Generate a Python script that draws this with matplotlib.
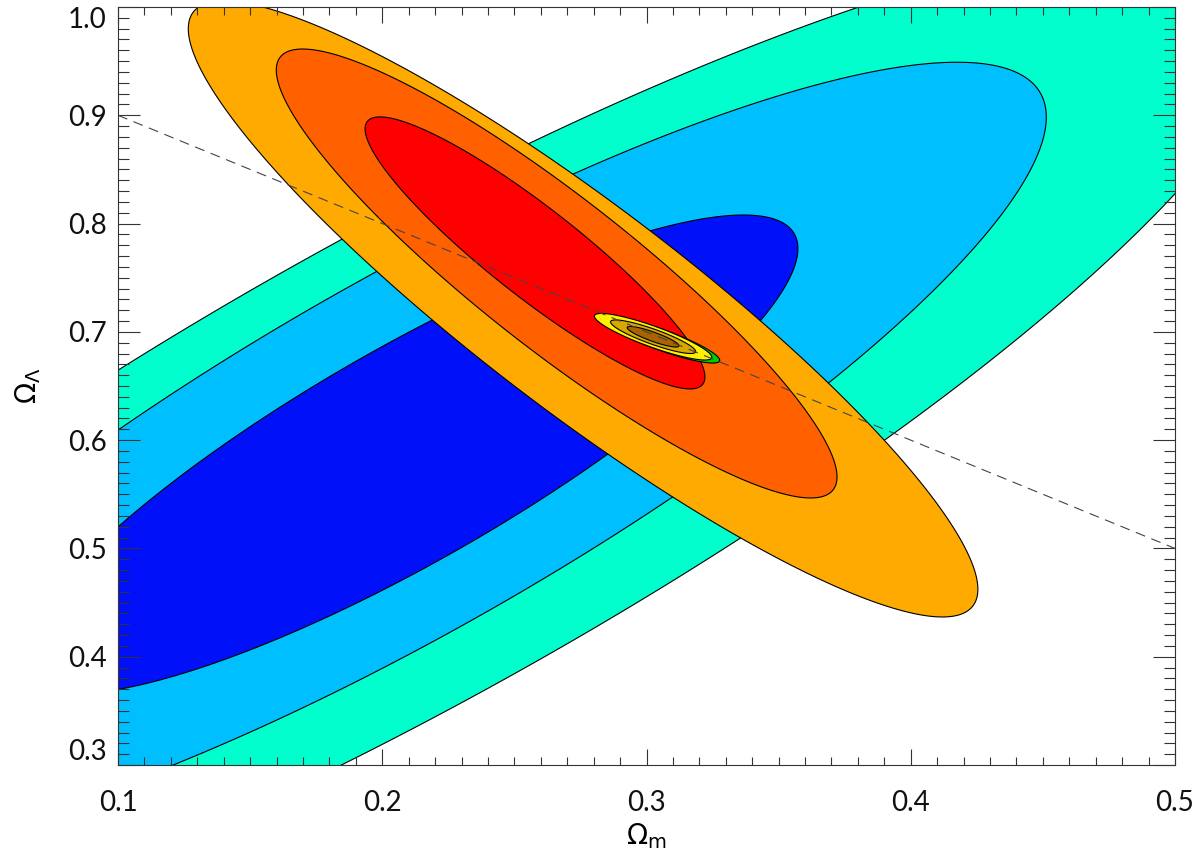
import numpy as np
import matplotlib
matplotlib.use('Agg')
import matplotlib.pyplot as plt
from matplotlib.ticker import MultipleLocator

# contour ellipses: centre, half extent in x / y, correlation
# blue set (3 sigma, 2 sigma, 1 sigma)
blue_cx = [0.210, 0.210, 0.210]
blue_cy = [0.575, 0.5868, 0.5868]
blue_sx = [0.330, 0.2413, 0.1473]
blue_sy = [0.485, 0.3622, 0.2211]
blue_rho = [0.865, 0.86, 0.86]
blue_colors = ['#00FFCC', '#00BFFF', '#0010F8']

# orange set (3 sigma, 2 sigma, 1 sigma)
orange_cx = [0.276, 0.2660, 0.2578]
orange_cy = [0.7211, 0.7539, 0.7729]
orange_sx = [0.1494, 0.1061, 0.0643]
orange_sy = [0.2844, 0.2073, 0.1256]
orange_rho = [-0.91, -0.906, -0.912]
orange_colors = ['#FFAA00', '#FF6000', '#FF0000']

# combined constraint (green one sits underneath)
green_cx = [0.3055]
green_cy = [0.6927]
green_sx = [0.0222]
green_sy = [0.0215]
green_rho = [-0.88]
green_colors = ['#00CC00']

comb_cx = [0.3025, 0.3025, 0.3025]
comb_cy = [0.6955, 0.6955, 0.6955]
comb_sx = [0.0222, 0.0161, 0.0098]
comb_sy = [0.0215, 0.0155, 0.0095]
comb_rho = [-0.88, -0.88, -0.88]
comb_colors = ['#FFF000', '#D9A800', '#A86400']

# flat universe line
flat_x = [0.1, 0.5]
flat_y = [0.9, 0.5]

x_ticks = [0.1, 0.2, 0.3, 0.4, 0.5]
y_ticks = [0.3, 0.4, 0.5, 0.6, 0.7, 0.8, 0.9, 1.0]


def ellipse(cx, cy, sx, sy, rho, n=600):
    cov = np.array([[sx * sx, rho * sx * sy], [rho * sx * sy, sy * sy]])
    L = np.linalg.cholesky(cov)
    t = np.linspace(0, 2 * np.pi, n)
    pts = L @ np.vstack([np.cos(t), np.sin(t)])
    return cx + pts[0], cy + pts[1]


def draw_set(ax, cxs, cys, sxs, sys_, rhos, colors):
    for cx, cy, sx, sy, r, c in zip(cxs, cys, sxs, sys_, rhos, colors):
        ex, ey = ellipse(cx, cy, sx, sy, r)
        ax.fill(ex, ey, facecolor=c, edgecolor='black', linewidth=0.8)


plt.rcParams['font.family'] = ['Lato', 'DejaVu Sans']
plt.rcParams['mathtext.fontset'] = 'dejavusans'

fig = plt.figure(figsize=(12, 8.67), dpi=100)
ax = fig.add_axes([118 / 1200, 1 - 765 / 867, 1057 / 1200, 758 / 867])

draw_set(ax, blue_cx, blue_cy, blue_sx, blue_sy, blue_rho, blue_colors)
draw_set(ax, orange_cx, orange_cy, orange_sx, orange_sy, orange_rho, orange_colors)
draw_set(ax, green_cx, green_cy, green_sx, green_sy, green_rho, green_colors)
draw_set(ax, comb_cx, comb_cy, comb_sx, comb_sy, comb_rho, comb_colors)

ax.plot(flat_x, flat_y, color='#444444', linewidth=0.8, linestyle=(0, (9, 6)))

ax.set_xlim(0.1, 0.5)
ax.set_ylim(0.3, 1.0)
ax.set_xticks(x_ticks)
ax.set_yticks(y_ticks)
ax.set_xticklabels(['%.1f' % v for v in x_ticks])
ax.set_yticklabels(['%.1f' % v for v in y_ticks])
ax.xaxis.set_minor_locator(MultipleLocator(0.01))
ax.yaxis.set_minor_locator(MultipleLocator(0.01))

ax.tick_params(which='both', direction='in', top=True, right=True, color='#333333')
ax.tick_params(axis='x', which='major', length=11.5, width=0.8, labelsize=20, pad=18,
               labelcolor='#111111')
ax.tick_params(axis='x', which='minor', length=5.8, width=0.8)
ax.tick_params(axis='y', which='major', length=15.8, width=0.8, labelsize=20, pad=8,
               labelcolor='#111111')
ax.tick_params(axis='y', which='minor', length=7.9, width=0.8)

yt = ax.yaxis.get_major_ticks()
yt[0].label1.set_va('bottom')
yt[-1].label1.set_va('top')

for s in ax.spines.values():
    s.set_linewidth(0.8)
    s.set_color('#333333')

ax.set_xlabel(r'$\Omega_{\rm m}$', fontsize=20, labelpad=4)
ax.set_ylabel(r'$\Omega_\Lambda$', fontsize=20, labelpad=18)

fig.savefig('out.png', dpi=100)
